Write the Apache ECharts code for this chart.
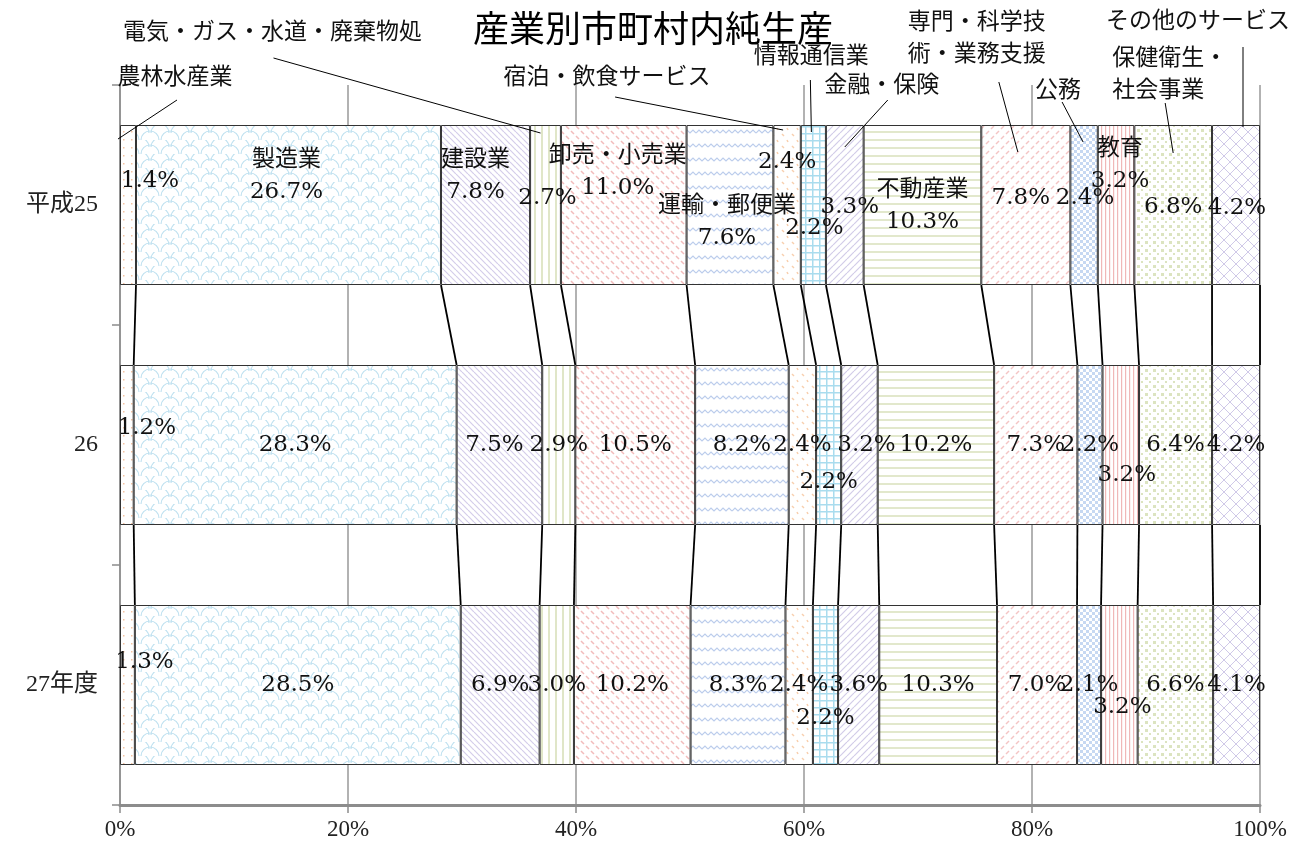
<!DOCTYPE html>
<html><head><meta charset="utf-8">
<script src="https://cdn.jsdelivr.net/npm/echarts@6/dist/echarts.min.js"></script>
<style>html,body{margin:0;padding:0;background:#fff}#c{width:1306px;height:847px}</style>
</head><body><div id="c"></div>
<script>
// ---------- data ----------
const categories = ['平成25', '26', '27年度'];
const seriesNames = ['農林水産業', '製造業', '建設業', '電気・ガス・水道・廃棄物処', '卸売・小売業', '運輸・郵便業',
  '宿泊・飲食サービス', '情報通信業', '金融・保険', '不動産業', '専門・科学技術・業務支援', '公務', '教育',
  '保健衛生・社会事業', 'その他のサービス'];
const valuesH25 = [1.4, 26.7, 7.8, 2.7, 11.0, 7.6, 2.4, 2.2, 3.3, 10.3, 7.8, 2.4, 3.2, 6.8, 4.2];
const valuesH26 = [1.2, 28.3, 7.5, 2.9, 10.5, 8.2, 2.4, 2.2, 3.2, 10.2, 7.3, 2.2, 3.2, 6.4, 4.2];
const valuesH27 = [1.3, 28.5, 6.9, 3.0, 10.2, 8.3, 2.4, 2.2, 3.6, 10.3, 7.0, 2.1, 3.2, 6.6, 4.1];
const xTickStep = 20;

// ---------- style / layout ----------
const rows = [valuesH25, valuesH26, valuesH27];
const FONT = "'DejaVu Serif','Noto Sans CJK JP',serif";
const FS = 23;
const BAR_GAP = 1 / 3;
// value label layout per category: [dx, dy, showName]
const labelLayout = [
  {0:[22,-24], 1:[-2,-29,1], 2:[-10,-29,1], 3:[2,-7], 4:[-6,-33,1], 5:[-3,17,1], 6:[0,-43], 7:[1,23], 8:[5,2],
   9:[0,1,1], 10:[-5,-7], 11:[1,-7], 12:[4,-40,1], 13:[0,2], 14:[1,3]},
  {0:[20,-17], 2:[-5,0], 7:[0,37], 8:[7,0], 12:[6,30]},
  {0:[17,-23], 7:[0,33], 12:[3,22]}
];
// callouts (series name + leader) for first category, relative to segment centre
const calloutLayout = {
  0:{t:[47,-127], l1:[49,-105], l2:[-10,-66]},
  3:{t:[-273,-172], l1:[-272,-147], l2:[-5,-72]},
  6:{t:[-180,-127], l1:[-172,-108], l2:[-4,-75]},
  7:{t:[-2,-148], l1:[-3,-125], l2:[-2,-73]},
  8:{t:[37,-119], l1:[43,-105], l2:[0,-58]},
  10:{t:[-49,-166], l1:[-27,-123], l2:[-8,-53], wrap:6},
  11:{t:[-26,-114], l1:[-22,-103], l2:[-1,-63]},
  13:{t:[-61,-130], l1:[-8,-102], l2:[0,-52], wrap:5, align:'left'},
  14:{t:[-38,-183], l1:[7,-158], l2:[7,-78]}
};

// pattern fills
function pattern(kind, color) {
  const sz = {dots:[8,8], scales:[20,14], diagDown:[6,6], vert:[7,7], dashDown:[10,10], zigzag:[12,14],
    sparse:[10,12], grid:[7,7], diagUp:[7,7], horiz:[8,8], dashUp:[10,10], checker:[6,6], vertFine:[4,4],
    squares:[8,8], lattice:[12,12]}[kind];
  const c = document.createElement('canvas');
  c.width = sz[0]; c.height = sz[1];
  const w = sz[0], h = sz[1];
  const g = c.getContext('2d');
  g.fillStyle = '#fff'; g.fillRect(0, 0, w, h);
  g.fillStyle = color; g.strokeStyle = color; g.lineWidth = 1.2;
  const line = (a, b, cc, d) => { g.beginPath(); g.moveTo(a, b); g.lineTo(cc, d); g.stroke(); };
  switch (kind) {
    case 'dots': g.fillRect(3, 3, 1.5, 1.5); break;
    case 'scales':
      g.beginPath(); g.arc(10, 14, 9, Math.PI, 2 * Math.PI); g.stroke();
      g.beginPath(); g.arc(0, 7, 9, Math.PI * 1.5, 2 * Math.PI + 0.01); g.stroke();
      g.beginPath(); g.arc(20, 7, 9, Math.PI, Math.PI * 1.5); g.stroke();
      break;
    case 'diagDown': for (const k of [-6, 0, 6]) line(k, 0, k + 6, 6); break;
    case 'vert': g.fillRect(2, 0, 2, h); break;
    case 'dashDown': g.lineWidth = 1.5; line(1, 1, 4, 4); line(6, 6, 9, 9); break;
    case 'zigzag': g.beginPath(); g.moveTo(0, 7); g.lineTo(3, 4); g.lineTo(6, 7); g.lineTo(9, 4); g.lineTo(12, 7); g.stroke(); break;
    case 'sparse': g.lineWidth = 1.5; line(2, 2, 4, 4); line(7, 8, 8, 10); break;
    case 'grid': g.fillRect(0, 0, w, 1.5); g.fillRect(0, 0, 1.5, h); break;
    case 'diagUp': for (const k of [-7, 0, 7]) line(k, 7, k + 7, 0); break;
    case 'horiz': g.fillRect(0, 3, w, 2); break;
    case 'dashUp': g.lineWidth = 1.5; line(1, 9, 4, 6); line(6, 4, 9, 1); break;
    case 'checker': g.fillRect(0, 0, 3, 3); g.fillRect(3, 3, 3, 3); break;
    case 'vertFine': g.fillRect(1, 0, 1.2, h); break;
    case 'squares': g.fillRect(1, 1, 3, 3); g.fillRect(5, 5, 2, 2); break;
    case 'lattice': g.lineWidth = 1; line(0, 0, 12, 12); line(0, 12, 12, 0); break;
  }
  return {image: c, repeat: 'repeat'};
}
const fills = [
  pattern('dots', '#f4c3a2'), pattern('scales', '#bfe1f0'), pattern('diagDown', '#d4cdea'),
  pattern('vert', '#e0e6c8'), pattern('dashDown', '#f2bcbc'), pattern('zigzag', '#bccdec'),
  pattern('sparse', '#f8cfae'), pattern('grid', '#a9dcee'), pattern('diagUp', '#d2cce8'),
  pattern('horiz', '#e2e8cc'), pattern('dashUp', '#f4c4c4'), pattern('checker', '#c6d8f2'),
  pattern('vertFine', '#f0b8b8'), pattern('squares', '#dce4c0'), pattern('lattice', '#d0c9e8')
];

// ---------- derived ----------
const totals = rows.map(r => r.reduce((a, b) => a + b, 0));
const norm = rows.map((r, i) => r.map(v => v / totals[i] * 100));
const cum = norm.map(r => { let s = 0; return r.map(v => (s += v)); });

const barSeries = seriesNames.map((name, j) => ({
  name, type: 'bar', stack: 'all', barCategoryGap: (BAR_GAP * 100) + '%',
  itemStyle: {color: fills[j], borderColor: '#333', borderWidth: 1},
  label: {show: true, position: 'inside', color: '#111', fontSize: FS, fontFamily: FONT, lineHeight: 32},
  emphasis: {disabled: true},
  data: rows.map((r, i) => {
    const L = labelLayout[i][j] || [0, 0];
    const txt = r[j].toFixed(1) + '%';
    return {value: norm[i][j], label: {offset: [L[0], L[1]], formatter: L[2] ? name + '\n' + txt : txt}};
  })
}));

const seriesLineData = [];
for (let i = 0; i < categories.length - 1; i++)
  for (let j = 0; j < seriesNames.length; j++)
    seriesLineData.push([cum[i][j], cum[i + 1][j], categories[i], i]);

const calloutData = Object.keys(calloutLayout).map(k => {
  const j = +k;
  return [cum[0][j] - norm[0][j], cum[0][j], categories[0], j];
});

const option = {
  animation: false,
  title: {text: '産業別市町村内純生産', left: 'center', top: 5,
    textStyle: {fontSize: 36, fontWeight: 'normal', color: '#000', fontFamily: "'Noto Sans CJK JP'"}},
  grid: {left: 120, right: 46, top: 85, bottom: 42},
  xAxis: {type: 'value', min: 0, max: 100, interval: xTickStep,
    axisLine: {show: true, lineStyle: {color: '#8c8c8c', width: 3}},
    axisTick: {show: true, length: 8, lineStyle: {color: '#8c8c8c', width: 1.5}},
    splitLine: {show: true, lineStyle: {color: '#999', width: 1.5}},
    axisLabel: {formatter: '{value}%', fontSize: 23, color: '#222', fontFamily: "'Liberation Serif',serif", margin: 13}},
  yAxis: {type: 'category', data: categories, inverse: true,
    axisLine: {show: true, lineStyle: {color: '#8c8c8c', width: 1.5}},
    axisTick: {show: true, length: 8, lineStyle: {color: '#8c8c8c', width: 1.5}},
    axisLabel: {fontSize: 24, color: '#222', fontFamily: "'Liberation Serif','Noto Sans CJK JP',serif", margin: 22}},
  series: [...barSeries,
    {type: 'custom', name: 'seriesLines', silent: true, z: 5,
      dimensions: ['from', 'to', 'cat', 'idx'], encode: {x: [0, 1], y: 2},
      renderItem(params, api) {
        const ci = api.value(2);
        const p1 = api.coord([api.value(0), ci]);
        const p2 = api.coord([api.value(1), ci + 1]);
        const half = api.size([0, 1])[1] * (1 - BAR_GAP) / 2;
        return {type: 'line', shape: {x1: p1[0], y1: p1[1] + half, x2: p2[0], y2: p2[1] - half},
          style: {stroke: '#000', lineWidth: 1.8}};
      },
      data: seriesLineData},
    {type: 'custom', name: 'callouts', silent: true, z: 6, clip: false,
      dimensions: ['from', 'to', 'cat', 'idx'], encode: {x: [0, 1], y: 2},
      renderItem(params, api) {
        const j = api.value(3);
        const L = calloutLayout[j];
        const p = api.coord([(api.value(0) + api.value(1)) / 2, api.value(2)]);
        const nm = seriesNames[j];
        const text = L.wrap ? nm.slice(0, L.wrap) + '\n' + nm.slice(L.wrap) : nm;
        return {type: 'group', children: [
          {type: 'line', shape: {x1: p[0] + L.l1[0], y1: p[1] + L.l1[1], x2: p[0] + L.l2[0], y2: p[1] + L.l2[1]},
            style: {stroke: '#000', lineWidth: 1}},
          {type: 'text', style: {text, x: p[0] + L.t[0], y: p[1] + L.t[1], align: L.align || 'center',
            verticalAlign: 'middle', fontSize: FS, fontFamily: FONT, fill: '#111', lineHeight: 32}}
        ]};
      },
      data: calloutData}
  ]
};
const chart = echarts.init(document.getElementById('c'), null, {renderer: 'canvas'});
chart.setOption(option);
</script></body></html>
